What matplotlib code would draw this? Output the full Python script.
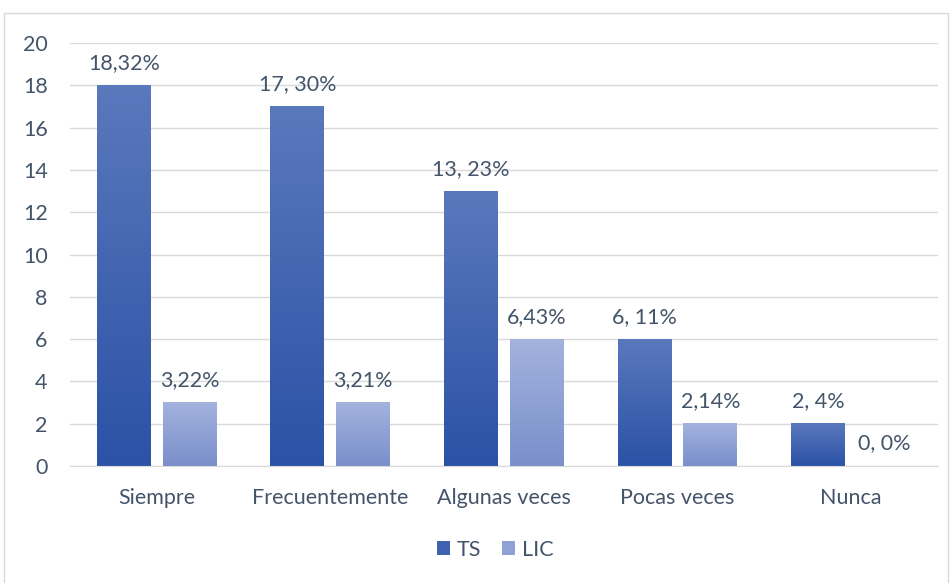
import numpy as np
import matplotlib
matplotlib.use("Agg")
import matplotlib.pyplot as plt
from matplotlib.colors import LinearSegmentedColormap
from matplotlib.patches import Rectangle

# datos
categorias = ["Siempre", "Frecuentemente", "Algunas veces", "Pocas veces", "Nunca"]
ts = [18, 17, 13, 6, 2]
lic = [3, 3, 6, 2, 0]
ts_labels = ["18,32%", "17, 30%", "13, 23%", "6, 11%", "2, 4%"]
lic_labels = ["3,22%", "3,21%", "6,43%", "2,14%", "0, 0%"]
series = ["TS", "LIC"]

plt.rcParams['font.family'] = ['Lato', 'DejaVu Sans']
texto = "#44546a"

fig = plt.figure(figsize=(9.52, 5.83), dpi=100)
ax = fig.add_axes([0.0735, 0.2007, 0.9115, 0.7253])

# borde del grafico
fig.patches.append(Rectangle((4 / 952, -0.01), 944 / 952, (583 - 13) / 583 + 0.01,
                             transform=fig.transFigure, fill=False,
                             edgecolor="#d9d9d9", linewidth=1))

cmap_ts = LinearSegmentedColormap.from_list("ts", ["#2b52a6", "#5a78bc"])
cmap_lic = LinearSegmentedColormap.from_list("lic", ["#7a8fcb", "#a3b3de"])

x = np.arange(len(categorias))
ancho = 0.31
desp = 0.19
grad = np.linspace(0, 1, 256).reshape(-1, 1)

for i in range(len(categorias)):
    for vals, etiquetas, cmap, off in [(ts, ts_labels, cmap_ts, -desp),
                                       (lic, lic_labels, cmap_lic, desp)]:
        v = vals[i]
        xc = x[i] + off
        if v > 0:
            ax.imshow(grad, cmap=cmap, origin="lower", aspect="auto",
                      extent=[xc - ancho / 2, xc + ancho / 2, 0, v], zorder=2)
        ax.annotate(etiquetas[i], (xc, v), xytext=(0, 9), textcoords="offset points",
                    ha="center", va="bottom", fontsize=15.5, color=texto)

ax.set_xlim(-0.5, len(categorias) - 0.5)
ax.set_ylim(0, 20)
ax.set_yticks(range(0, 21, 2))
ax.set_xticks(x)
ax.set_xticklabels(categorias)
ax.tick_params(axis="both", length=0, labelsize=15.5, labelcolor=texto)
ax.tick_params(axis="y", pad=16)
ax.tick_params(axis="x", pad=16)
ax.grid(axis="y", color="#d9d9d9", linewidth=1)
ax.set_axisbelow(True)
for s in ["top", "right", "left"]:
    ax.spines[s].set_visible(False)
ax.spines["bottom"].set_color("#d9d9d9")

# leyenda
h1 = Rectangle((0, 0), 1, 1, facecolor="#3f62b0")
h2 = Rectangle((0, 0), 1, 1, facecolor="#8fa2d6")
fig.legend([h1, h2], series, loc="center", bbox_to_anchor=(0.52, 0.057), ncol=2,
           frameon=False, fontsize=15.5, labelcolor=texto, handlelength=0.6,
           handleheight=0.6, handletextpad=0.3, columnspacing=1.0)

fig.savefig("out.png", dpi=100)
